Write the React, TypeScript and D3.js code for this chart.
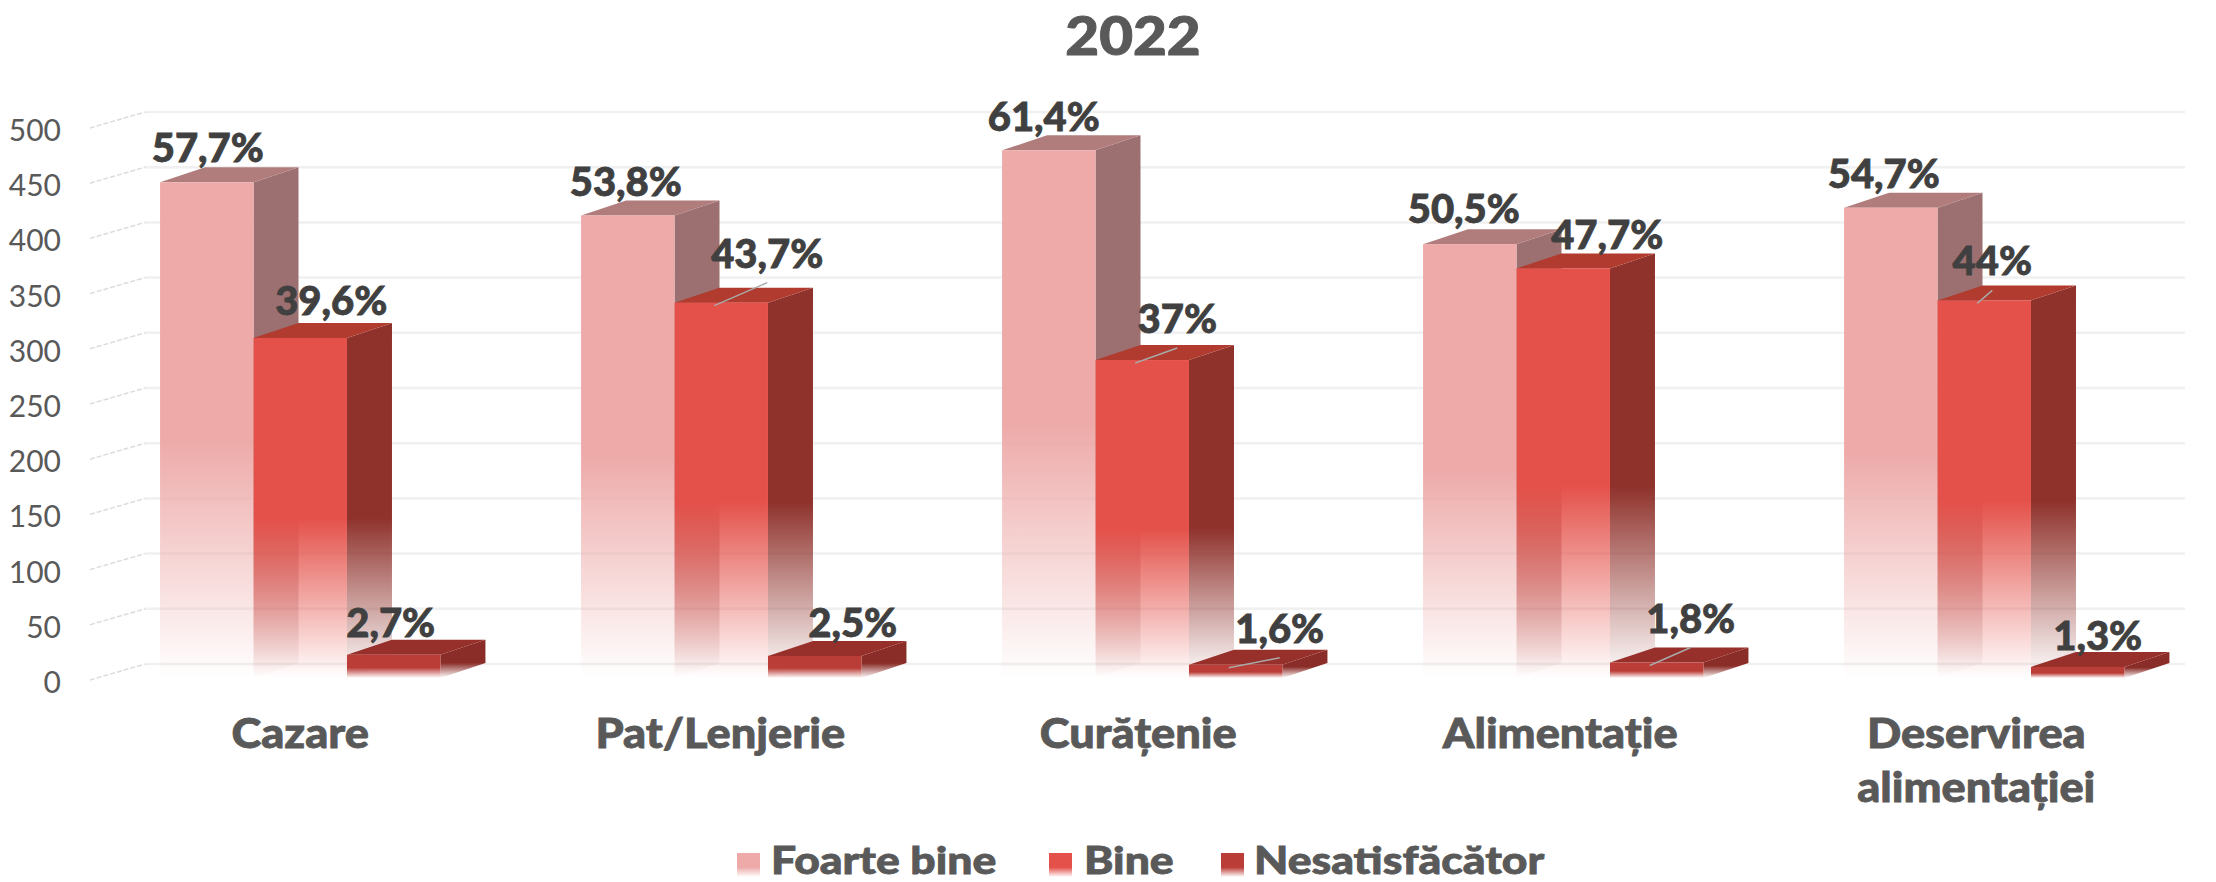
import React from "react";
import * as d3 from "d3";

const title = "2022";
const categories = ["Cazare", "Pat/Lenjerie", "Curățenie", "Alimentație", "Deservirea alimentației"];
const categoryLines = [["Cazare"], ["Pat/Lenjerie"], ["Curățenie"], ["Alimentație"], ["Deservirea", "alimentației"]];
const seriesNames = ["Foarte bine", "Bine", "Nesatisfăcător"];
const foarteBine = [449, 419, 478, 393, 426];
const bine = [308, 340, 288, 371, 342];
const nesatisfacator = [21, 20, 12, 14, 10];
const foarteBineLabels = ["57,7%", "53,8%", "61,4%", "50,5%", "54,7%"];
const bineLabels = ["39,6%", "43,7%", "37%", "47,7%", "44%"];
const nesatisfacatorLabels = ["2,7%", "2,5%", "1,6%", "1,8%", "1,3%"];
const yTicks = [0, 50, 100, 150, 200, 250, 300, 350, 400, 450, 500];

const seriesValues = [foarteBine, bine, nesatisfacator];
const seriesLabels = [foarteBineLabels, bineLabels, nesatisfacatorLabels];

// label placement relative to the bar's front-top centre
const labelDx = [[1, -2, -5, -6, -7], [31, 46, 35, 44, 8], [-3, 38, 44, 34, 20]];
const labelDy = [[-34, -33, -33, -35, -34], [-37, -49, -41, -33, -39], [-32, -33, -36, -44, -31]];
const leaders = [[1, 1], [2, 1], [4, 1], [2, 2], [3, 2]]; // [category, series]
const categoryDx = [0, -1, -4, -3, -8];

const faces = [
  { front: "#edaaa9", top: "#b17d7c", side: "#9c7070" },
  { front: "#e4514a", top: "#b03b2e", side: "#8f322c" },
  { front: "#bb3d37", top: "#972f2a", side: "#8a2c27" },
];

const legendSwatchX = [737, 1049, 1221];
const legendTextX = [771, 1084, 1254];

const FONT = "Lato, 'Open Sans', sans-serif";
const GREY = "#595959";
const DARK = "#404040";
const DX = 45;
const DY = 15;

const y = d3.scaleLinear().domain([0, 500]).range([678, 126]);
const x0 = d3.scaleBand<string>().domain(categories).range([89.75, 2194.75]).paddingInner(0.334).paddingOuter(0.167);
const x1 = d3.scaleBand<string>().domain(seriesNames).range([0, x0.bandwidth()]);

const poly = (pts: [number, number][]) => d3.line()(pts) + "Z";

function Grad({ id, color, start }: { id: string; color: string; start: number }) {
  return (
    <linearGradient id={id} x1="0" y1="0" x2="0" y2="1">
      <stop offset={start} stopColor={color} stopOpacity={1} />
      <stop offset={1} stopColor={color} stopOpacity={0} />
    </linearGradient>
  );
}

export default function App() {
  const bw = x1.bandwidth();
  const frontStart = [0.52, 0.53, 0.55];
  const sideStart = [0.52, 0.55, 0.6];
  return (
    <svg width={2216} height={882} style={{ position: "fixed", left: 0, top: 0, background: "#fff" }} fontFamily={FONT}>
      <defs>
        {faces.map((f, s) => (
          <React.Fragment key={s}>
            <Grad id={`front${s}`} color={f.front} start={frontStart[s]} />
            <Grad id={`side${s}`} color={f.side} start={sideStart[s]} />
            <Grad id={`legend${s}`} color={f.front} start={0.6} />
          </React.Fragment>
        ))}
      </defs>

      <text
        transform="translate(1133,55) scale(1.08,1)"
        textAnchor="middle"
        fontSize={54}
        fontWeight={900}
        fill={GREY}
        stroke={GREY}
        strokeWidth={1}
      >
        {title}
      </text>

      {yTicks.map((t) => (
        <g key={t}>
          <line x1={145} x2={2185} y1={y(t) - 14} y2={y(t) - 14} stroke="#f0f0f0" strokeWidth={2.5} />
          <line x1={90} x2={145} y1={y(t) + 2} y2={y(t) - 14} stroke="#dcdcdc" strokeWidth={1.5} strokeDasharray="5 2" />
          <text x={61} y={y(t) + 15} textAnchor="end" fontSize={30} fill={GREY}>{t}</text>
        </g>
      ))}

      {categories.map((c, g) =>
        seriesNames.map((name, s) => {
          const v = seriesValues[s][g];
          const l = x0(c)! + x1(name)!;
          const r = l + bw;
          const t = y(v);
          const b = y(0);
          return (
            <g key={name}>
              <path d={poly([[r, t], [r + DX, t - DY], [r + DX, b - DY], [r, b]])} fill={`url(#side${s})`} />
              <path d={poly([[l, t], [l + DX, t - DY], [r + DX, t - DY], [r, t]])} fill={faces[s].top} />
              <rect x={l} y={t} width={bw} height={b - t} fill={`url(#front${s})`} />
            </g>
          );
        })
      )}

      {leaders.map(([g, s]) => {
        const cx = x0(categories[g])! + x1(seriesNames[s])! + bw / 2;
        const t = y(seriesValues[s][g]);
        return (
          <line key={`${g}-${s}`} x1={cx + labelDx[s][g]} y1={t + labelDy[s][g] + 29} x2={cx - 7} y2={t + 3} stroke="#a9a9a9" strokeWidth={1.5} />
        );
      })}

      {categories.map((c, g) =>
        seriesNames.map((name, s) => (
          <text
            key={name}
            x={x0(c)! + x1(name)! + bw / 2 + labelDx[s][g]}
            y={y(seriesValues[s][g]) + labelDy[s][g] + 14}
            textAnchor="middle"
            fontSize={40}
            fontWeight={900}
            fill={DARK}
            stroke={DARK}
            strokeWidth={0.8}
          >
            {seriesLabels[s][g]}
          </text>
        ))
      )}

      {categories.map((c, g) => (
        <g key={c} transform={`translate(${x0(c)! + x0.bandwidth() / 2 + categoryDx[g]},0) scale(1.1,1)`}>
          {categoryLines[g].map((line, i) => (
            <text key={line} y={748 + i * 54} textAnchor="middle" fontSize={41} fontWeight={900} fill={GREY} stroke={GREY} strokeWidth={0.8}>
              {line}
            </text>
          ))}
        </g>
      ))}

      {seriesNames.map((name, s) => (
        <g key={name}>
          <rect x={legendSwatchX[s]} y={853} width={23} height={24} fill={`url(#legend${s})`} />
          <text
            transform={`translate(${legendTextX[s]},874) scale(1.17,1)`}
            fontSize={38}
            fontWeight={900}
            fill={GREY}
            stroke={GREY}
            strokeWidth={0.8}
          >
            {name}
          </text>
        </g>
      ))}
    </svg>
  );
}
